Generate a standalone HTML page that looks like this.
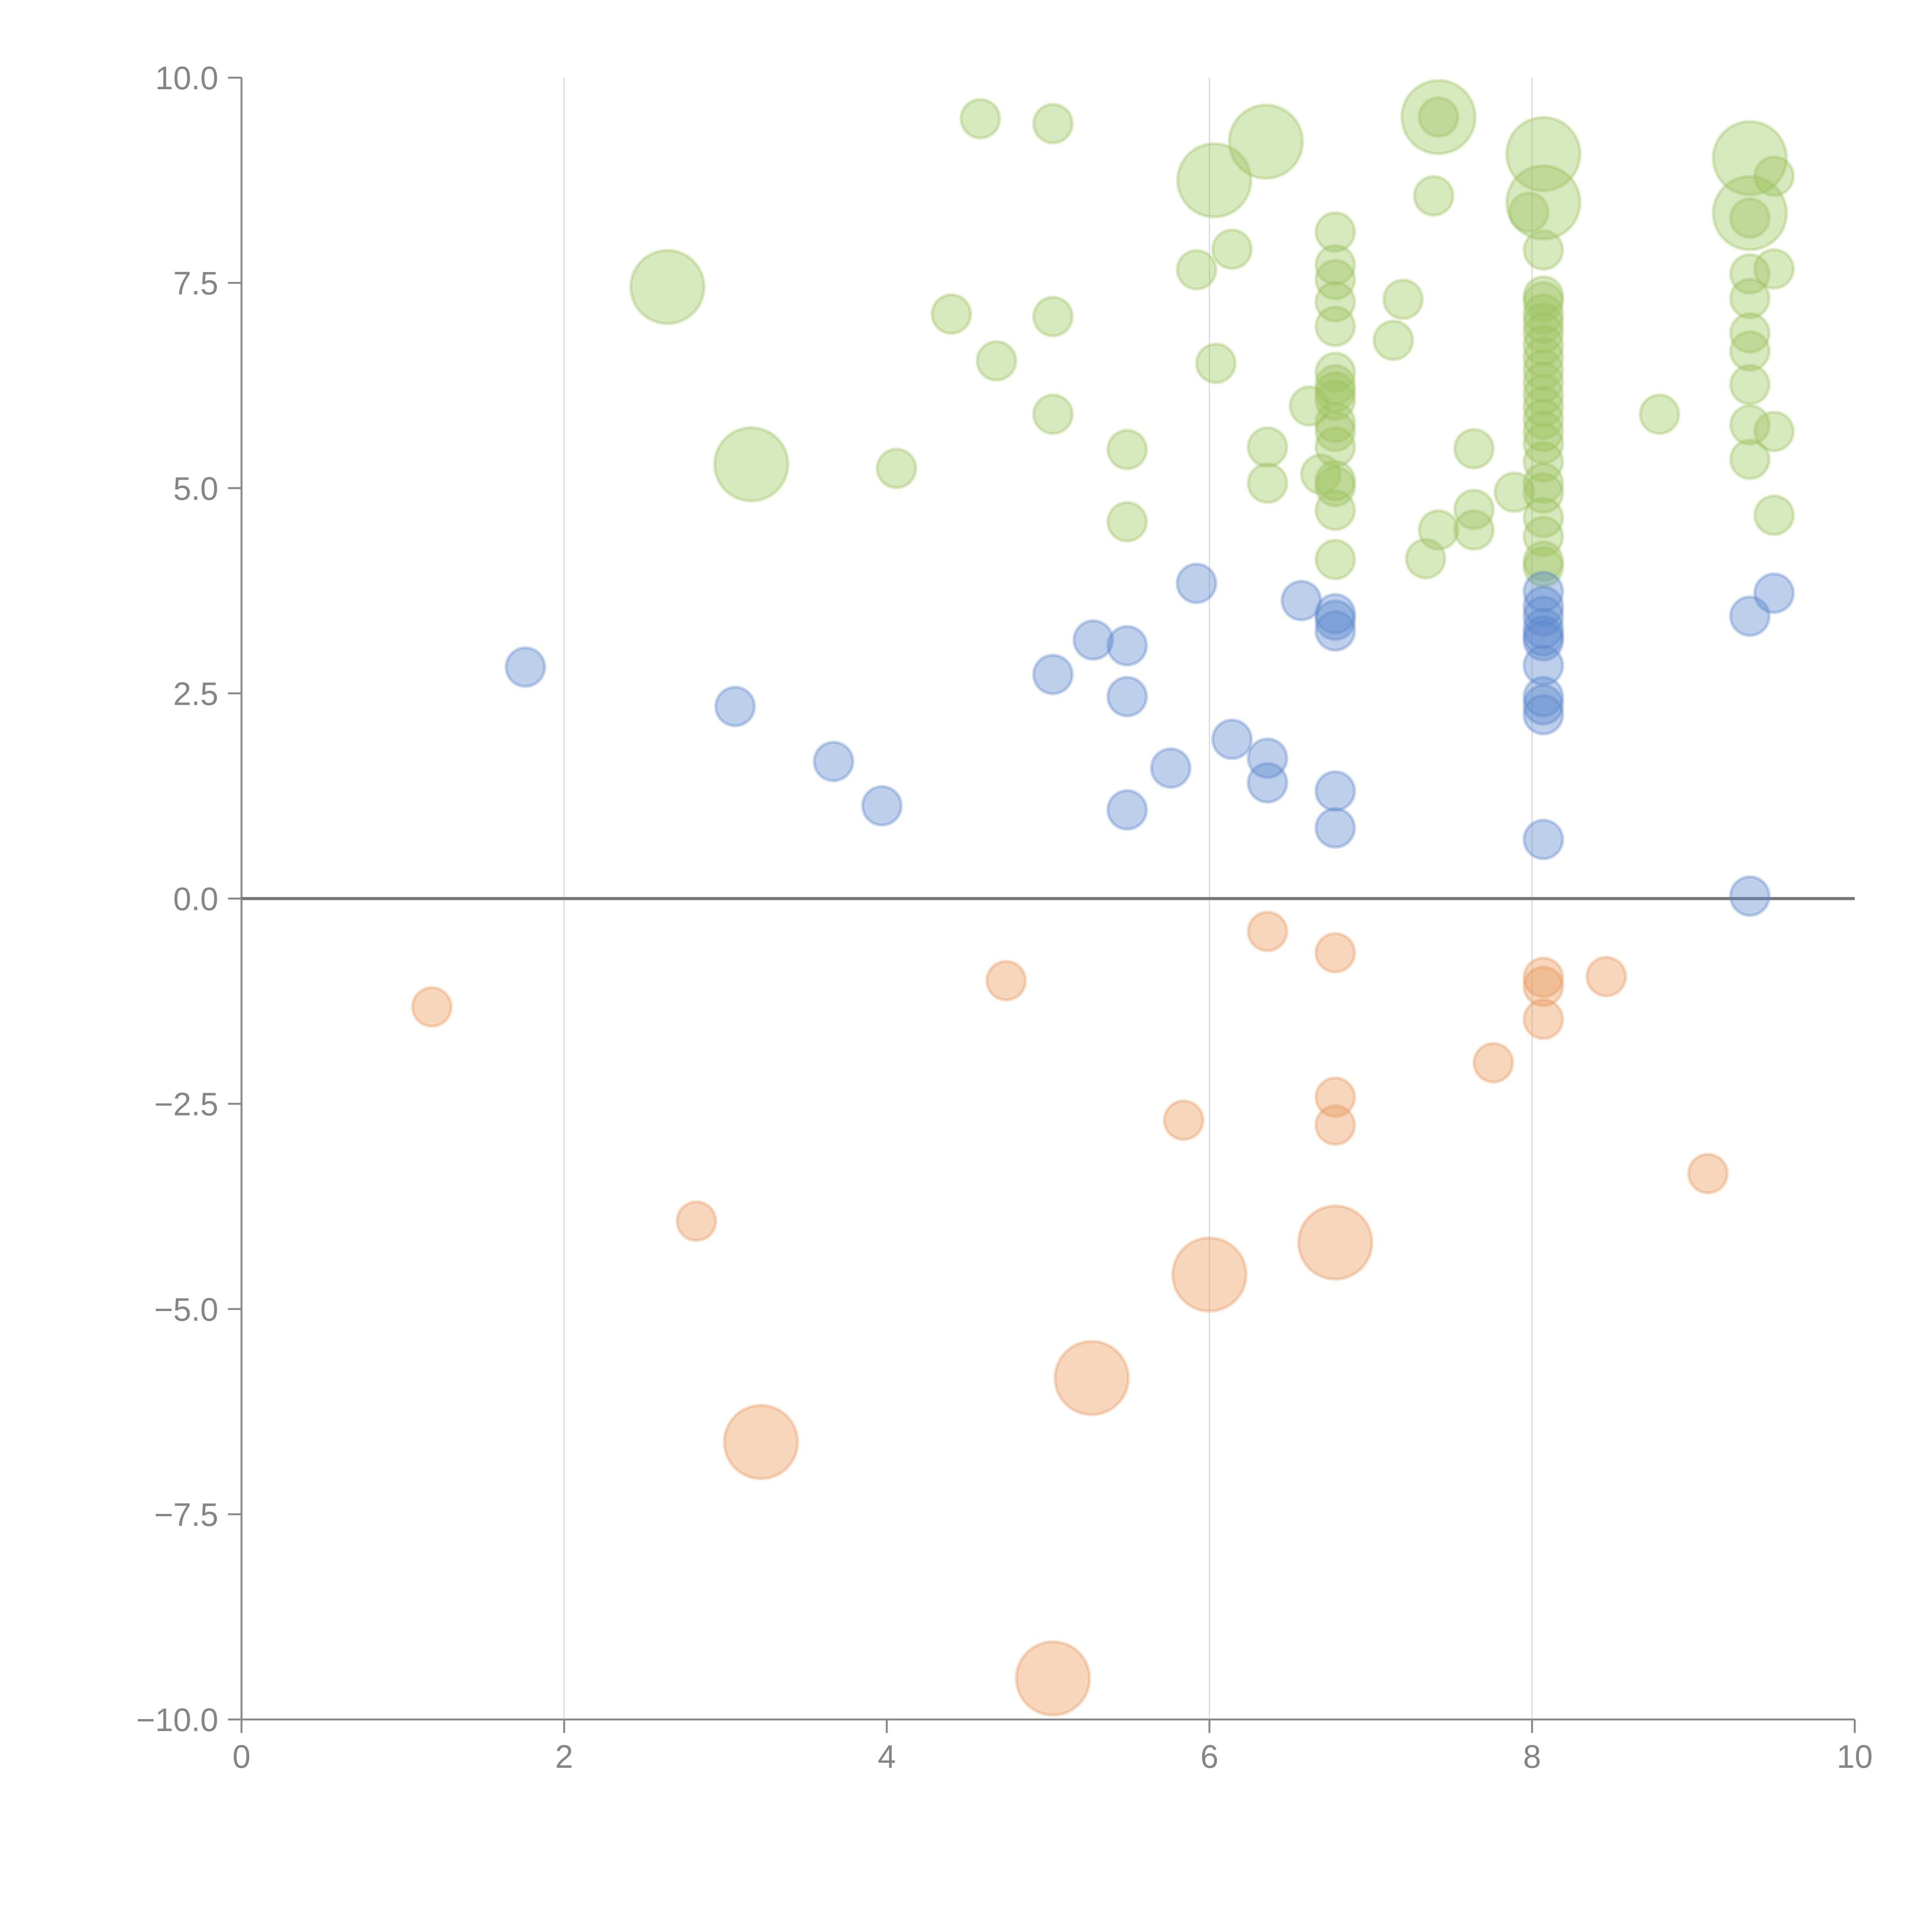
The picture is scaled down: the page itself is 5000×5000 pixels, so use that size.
<!DOCTYPE html>
<html><head><meta charset="utf-8"><style>
html,body{margin:0;padding:0;background:#fff;}
svg{display:block;}
text{font-family:"Liberation Sans",sans-serif;fill:#858585;}
</style></head><body>
<svg id="chart" width="5000" height="5000" viewBox="0 0 5000 5000">
<g id="grid"></g>
<g id="axes"></g>
<g id="bubbles"></g>
</svg>
<script>
const xTicks=[0,2,4,6,8,10];
const xTickLabels=["0","2","4","6","8","10"];
const yTicks=[-10,-7.5,-5,-2.5,0,2.5,5,7.5,10];
const yTickLabels=["\u221210.0","\u22127.5","\u22125.0","\u22122.5","0.0","2.5","5.0","7.5","10.0"];
const gridX=[2,6,8];

const orangeX=[1.18,2.82,3.22,4.74,5.03,5.27,5.84,6.0,6.36,6.78,6.78,6.78,6.78,7.76,8.07,8.07,8.07,8.46,9.09];
const orangeY=[-1.32,-3.93,-6.62,-1.0,-9.5,-5.84,-2.7,-4.58,-0.4,-0.66,-4.19,-2.42,-2.76,-2.0,-0.96,-1.07,-1.47,-0.95,-3.35];
const orangeS=[1,1,3.6,1,3.6,3.6,1,3.6,1,1,3.6,1,1,1,1,1,1,1,1];

const blueX=[1.76,3.06,3.67,3.97,5.03,5.28,5.49,5.49,5.49,5.76,5.92,6.14,6.36,6.36,6.57,6.78,6.78,6.78,6.78,6.78,8.07,8.07,8.07,8.07,8.07,8.07,8.07,8.07,8.07,8.07,8.07,9.35,9.5,9.35];
const blueY=[2.82,2.34,1.67,1.13,2.73,3.15,3.08,2.46,1.08,1.59,3.84,1.94,1.71,1.41,3.63,3.47,3.39,3.26,1.31,0.86,3.74,3.56,3.44,3.29,3.2,3.14,2.84,2.46,2.36,2.24,0.72,3.44,3.72,0.03];
const blueS=blueX.map(()=>1);

const greenX=[4.58,5.03,4.4,4.68,5.03,5.03,4.06,5.49,5.49,5.92,6.14,6.04,6.36,6.36,6.62,6.69,
6.78,6.78,6.78,6.78,6.78,6.78,6.78,6.78,6.78,6.78,6.78,6.78,6.78,6.78,6.78,6.78,
7.14,7.2,7.34,7.39,7.42,7.64,7.64,7.64,7.89,7.98,
8.07,8.07,8.07,8.07,8.07,8.07,8.07,8.07,8.07,8.07,8.07,8.07,8.07,8.07,8.07,8.07,8.07,8.07,8.07,8.07,8.07,8.07,
8.79,9.35,9.35,9.35,9.35,9.35,9.35,9.35,9.35,9.5,9.5,9.5,9.5,7.42,
2.64,3.16,6.03,6.35,7.42,8.07,8.07,9.35,9.35];
const greenY=[9.5,9.44,7.12,6.55,7.09,5.9,5.24,5.47,4.59,7.66,7.91,6.52,5.5,5.06,6.0,5.17,
8.12,7.72,7.54,7.27,6.97,6.41,6.26,6.17,6.07,5.8,5.69,5.5,5.09,5.02,4.73,4.13,
6.8,7.3,4.14,8.56,4.49,5.48,4.74,4.49,4.95,8.36,
7.9,7.34,7.27,7.12,7.01,6.89,6.74,6.59,6.44,6.29,6.14,5.99,5.84,5.69,5.54,5.32,5.06,4.94,4.64,4.41,4.11,4.04,
5.9,8.29,7.61,7.31,6.89,6.67,6.26,5.77,5.35,8.8,7.67,5.69,4.67,9.52,
7.45,5.29,8.75,9.22,9.52,9.07,8.48,9.02,8.35];
const greenS=greenX.map((v,i)=>i<greenX.length-9?1:3.6);

const L=625,R=4800,T=201,B=4450;
const sx=v=>L+(v-0)/(10-0)*(R-L);
const sy=v=>B-(v-(-10))/(20)*(B-T);
const NS="http://www.w3.org/2000/svg";
function mk(tag,attrs,parent){const e=document.createElementNS(NS,tag);for(const k in attrs)e.setAttribute(k,attrs[k]);parent.appendChild(e);return e;}
const grid=document.getElementById('grid'),axes=document.getElementById('axes'),bub=document.getElementById('bubbles');

gridX.forEach(v=>{const l=mk('line',{x1:sx(v),x2:sx(v),y1:T,y2:B,stroke:'#d8d8d8','stroke-width':3},grid);

});

const ax=mk('line',{x1:L,x2:R,y1:B,y2:B,stroke:'#888','stroke-width':5},axes);


const ay=mk('line',{x1:L,x2:L,y1:T,y2:B,stroke:'#888','stroke-width':5},axes);



xTicks.forEach((v,i)=>{const t=mk('line',{x1:sx(v),x2:sx(v),y1:B,y2:B+35,stroke:'#888','stroke-width':5},axes);


const tx=mk('text',{x:sx(v),y:B+125,'text-anchor':'middle','font-size':84},axes);tx.textContent=xTickLabels[i];

});
yTicks.forEach((v,i)=>{const t=mk('line',{x1:L-35,x2:L,y1:sy(v),y2:sy(v),stroke:'#888','stroke-width':5},axes);


const tx=mk('text',{x:L-60,y:sy(v)+30,'text-anchor':'end','font-size':84},axes);tx.textContent=yTickLabels[i];

});

function series(X,Y,S,col,name){X.forEach((x,i)=>{const c=mk('circle',{cx:sx(x),cy:sy(Y[i]),r:50*Math.sqrt(S[i]),fill:col,'fill-opacity':0.4,stroke:col,'stroke-opacity':0.35,'stroke-width':8},bub);

});}
series(greenX,greenY,greenS,'#9bc25c','green-bubble');
series(blueX,blueY,blueS,'#5a88cc','blue-bubble');
series(orangeX,orangeY,orangeS,'#e8995a','orange-bubble');

const z=mk('line',{x1:L,x2:R,y1:sy(0),y2:sy(0),stroke:'#777','stroke-width':8},axes);


</script>
</body></html>
